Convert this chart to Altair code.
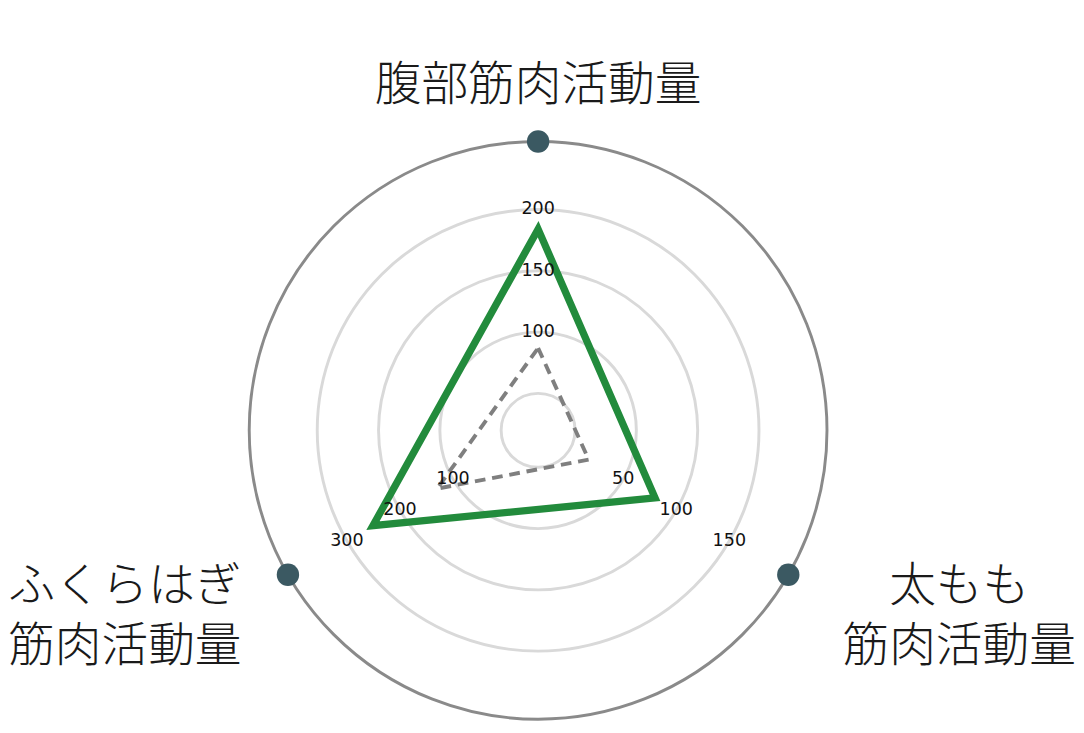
import altair as alt
import pandas as pd

# ---- data ----
axis_labels = ["腹部筋肉活動量", "太もも\n筋肉活動量", "ふくらはぎ\n筋肉活動量"]
axis_angles = [90, -30, 210]          # direction of each axis (degrees)
axis_min = [50, 0, 0]                 # value at the innermost ring
axis_step = [50, 50, 100]             # value step between rings
tick_values = [[100, 150, 200], [50, 100, 150], [100, 200, 300]]
series_names = ["green", "gray"]
series_green = [184, 80, 251]
series_gray = [87, 17.5, 130]

# ---- layout constants (pixels) ----
W, H = 1068, 717
CX, CY = 532, 424          # centre inside plot area
R0, RING, ROUT = 38, 63, 297
N_RINGS = 4

axes_df = pd.DataFrame({
    "idx": list(range(3)), "label": axis_labels, "angle": axis_angles,
    "vmin": axis_min, "step": axis_step,
})

tick_rows = []
for i, vals in enumerate(tick_values):
    for v in vals:
        tick_rows.append({"angle": axis_angles[i], "vmin": axis_min[i],
                          "step": axis_step[i], "value": v, "text": str(v)})
ticks_df = pd.DataFrame(tick_rows)

ser_rows = []
for name, vals in zip(series_names, [series_green, series_gray]):
    for i, v in enumerate(vals):
        ser_rows.append({"series": name, "idx": i, "angle": axis_angles[i],
                         "vmin": axis_min[i], "step": axis_step[i], "value": v})
ser_df = pd.DataFrame(ser_rows)

rings_df = pd.DataFrame({"k": list(range(N_RINGS))})

xs = alt.Scale(domain=[-CX, W - CX], nice=False, zero=False)
ys = alt.Scale(domain=[CY - H, CY], nice=False, zero=False)

radial = f"{R0} + {RING} * (datum.value - datum.vmin) / datum.step"
xexpr = "datum.r * cos(datum.angle * PI / 180)"
yexpr = "datum.r * sin(datum.angle * PI / 180)"

X = alt.X("x:Q", scale=xs, axis=None)
Y = alt.Y("y:Q", scale=ys, axis=None)

rings = alt.Chart(rings_df).transform_calculate(
    r=f"{R0} + {RING} * datum.k", x="0", y="0"
).mark_arc(filled=False, stroke="#d9d9d9", strokeWidth=3, theta=0, theta2=6.2832).encode(
    x=X, y=Y, radius=alt.Radius("r:Q", scale=None, stack=False), detail="k:N"
)

outer = alt.Chart(pd.DataFrame({"r": [ROUT]})).transform_calculate(
    x="0", y="0"
).mark_arc(filled=False, stroke="#8a8a8a", strokeWidth=3, theta=0, theta2=6.2832).encode(
    x=X, y=Y, radius=alt.Radius("r:Q", scale=None, stack=False)
)

dots = alt.Chart(axes_df).transform_calculate(
    r=str(ROUT), x=xexpr, y=yexpr
).mark_point(filled=True, color="#3b5962", opacity=1, size=530).encode(x=X, y=Y)

gray = alt.Chart(ser_df).transform_filter("datum.series == 'gray'").transform_calculate(
    r=radial, x=xexpr, y=yexpr
).mark_line(interpolate="linear-closed", color="#7f7f7f", strokeWidth=4,
            strokeDash=[11, 7]).encode(x=X, y=Y, order="idx:Q")

green = alt.Chart(ser_df).transform_filter("datum.series == 'green'").transform_calculate(
    r=radial, x=xexpr, y=yexpr
).mark_line(interpolate="linear-closed", color="#228b3c", strokeWidth=7.5,
            strokeJoin="miter").encode(x=X, y=Y, order="idx:Q")

tick_text = alt.Chart(ticks_df).transform_calculate(
    r=radial, x=xexpr, y=yexpr
).mark_text(font="DejaVu Sans", fontSize=18, color="#111111",
            align="center", baseline="middle").encode(x=X, y=Y, text="text:N")

label_text = alt.Chart(axes_df).transform_calculate(
    r="datum.angle == 90 ? 354 : 322",
    x="datum.r * cos(datum.angle * PI / 180) + (datum.angle == 90 ? 0 : (cos(datum.angle * PI / 180) > 0 ? 154 : -146))",
    y=yexpr,
).mark_text(font="Noto Sans CJK JP", fontSize=48, fontWeight=300, color="#1a1a1a",
            align="center", baseline="middle", lineBreak="\n", lineHeight=62).encode(
    x=X, y=Y, text="label:N"
)

chart = alt.layer(rings, outer, gray, green, dots, tick_text, label_text).properties(
    width=W, height=H, padding=0
).configure_view(stroke=None)

chart.save("out.html", embed_options={"renderer": "svg", "actions": False})
